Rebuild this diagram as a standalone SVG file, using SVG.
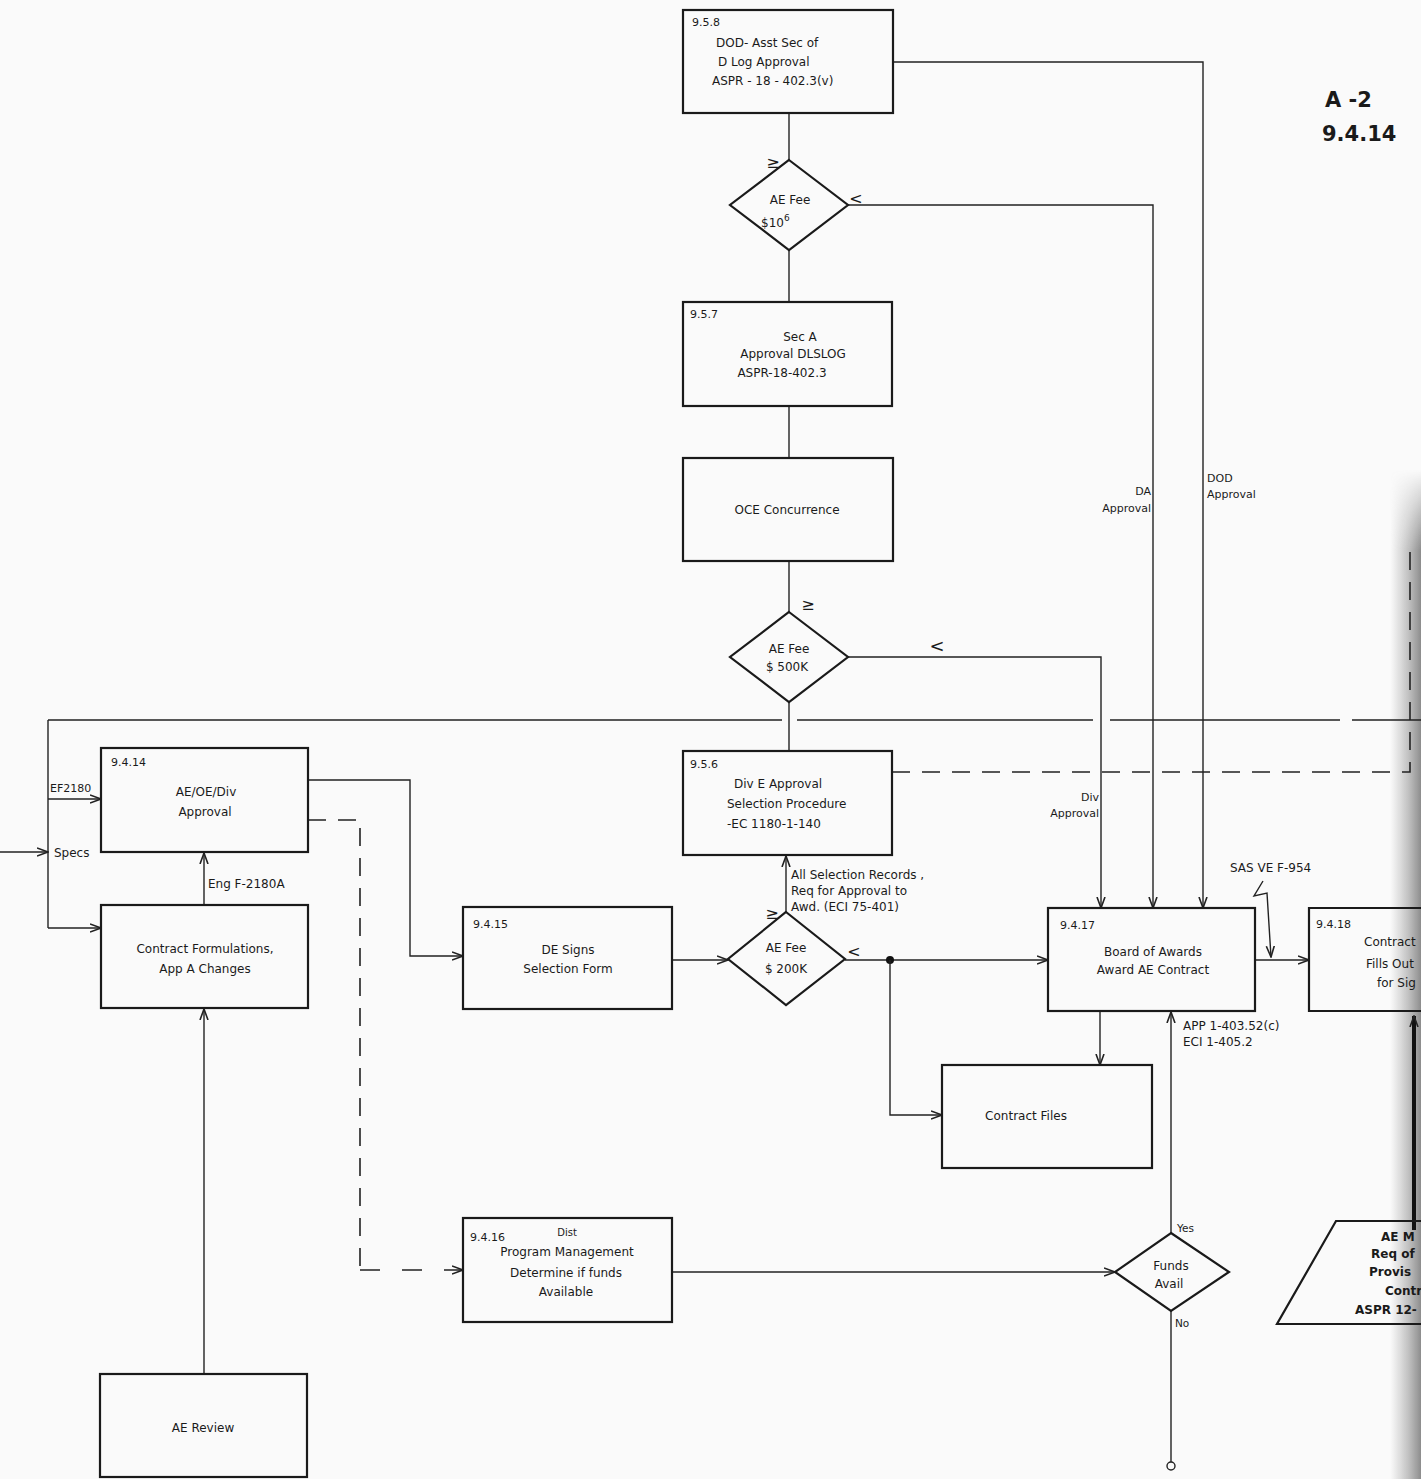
<svg xmlns="http://www.w3.org/2000/svg" width="1421" height="1479" viewBox="0 0 1421 1479">
<defs>
<marker id="ar" viewBox="0 0 12 10" refX="11" refY="5" markerWidth="12" markerHeight="10" markerUnits="userSpaceOnUse" orient="auto">
<path d="M0,1 L11,5 L0,9" fill="none" stroke="#222" stroke-width="1.6"/>
</marker>
<linearGradient id="shade" x1="0" y1="0" x2="1" y2="0">
<stop offset="0" stop-color="#777" stop-opacity="0"/>
<stop offset="1" stop-color="#444" stop-opacity="0.6"/>
</linearGradient>
<linearGradient id="fade" x1="0" y1="0" x2="0" y2="1">
<stop offset="0" stop-color="#fff" stop-opacity="0"/>
<stop offset="0.08" stop-color="#fff" stop-opacity="1"/>
</linearGradient>
<mask id="m">
<rect x="1390" y="470" width="31" height="1009" fill="url(#fade)"/>
</mask>
<style>
.box{fill:none;stroke:#1a1a1a;stroke-width:2.2}
.ln{fill:none;stroke:#222;stroke-width:1.4}
.ar{marker-end:url(#ar)}
.dash{fill:none;stroke:#222;stroke-width:1.6;stroke-dasharray:18 12}
text{font-family:"DejaVu Sans","Liberation Sans",sans-serif;font-size:12px;fill:#1a1a1a}
.c{text-anchor:middle}
.e{text-anchor:end}
.n{font-size:11px}
.big{font-size:21px;font-weight:bold}
.b{font-weight:bold}
.sym{font-size:16px;text-anchor:middle}
</style>
</defs>
<rect width="1421" height="1479" fill="#fafafa"/>
<rect x="1390" y="470" width="31" height="1009" fill="url(#shade)" mask="url(#m)"/>

<g id="connectors">
<path class="ln" d="M789,113 V160"/>
<path class="ln" d="M789,250 V302"/>
<path class="ln" d="M789,406 V458"/>
<path class="ln" d="M789,561 V612"/>
<path class="ln" d="M789,702 V751"/>
<path class="ln ar" d="M893,62 H1203 V908"/>
<path class="ln ar" d="M848,205 H1153 V908"/>
<path class="ln ar" d="M848,657 H1101 V908"/>
<path class="ln" d="M48,720 H782 M797,720 H1093 M1110,720 H1340 M1352,720 H1421"/>
<path class="ln" d="M48,720 V928"/>
<path class="ln ar" d="M48,928 H101"/>
<path class="ln ar" d="M48,799 H101"/>
<path class="ln ar" d="M0,852 H48"/>
<path class="dash" d="M892,772 H1410 V548"/>
<path class="ln ar" d="M786,912 V856"/>
<path class="ln ar" d="M672,960 H728"/>
<path class="ln ar" d="M845,960 H1048"/>
<circle cx="890" cy="960" r="4" fill="#111"/>
<path class="ln ar" d="M890,960 V1115 H942"/>
<path class="ln ar" d="M308,780 H410 V956 H463"/>
<path class="dash" d="M308,820 H360 V1270"/>
<path class="dash ar" d="M360,1270 H463" style="stroke-dasharray:20 22"/>
<path class="ln ar" d="M204,905 V853"/>
<path class="ln ar" d="M204,1374 V1009"/>
<path class="ln ar" d="M672,1272 H1115"/>
<path class="ln ar" d="M1171,1233 V1012"/>
<path class="ln" d="M1171,1311 V1462"/>
<circle cx="1171" cy="1466" r="4" fill="none" stroke="#222" stroke-width="1.4"/>
<path class="ln ar" d="M1100,1011 V1065"/>
<path class="ln ar" d="M1255,960 H1309"/>
<path class="ln ar" d="M1263,881 L1254,896 L1267,893 L1271,957"/>
<path d="M1414,1230 V1016" fill="none" stroke="#111" stroke-width="4" marker-end="url(#ar)"/>
</g>

<g id="n958">
<rect class="box" x="683" y="10" width="210" height="103"/>
<text x="692" y="26" class="n">9.5.8</text>
<text x="716" y="47">DOD- Asst Sec of</text>
<text x="718" y="66">D Log Approval</text>
<text x="712" y="85">ASPR - 18 - 402.3(v)</text>
</g>

<g id="d1">
<path class="box" d="M789,160 L848,205 L789,250 L730,205 Z"/>
<text x="790" y="204" class="c">AE Fee</text>
<text x="761" y="227">$10<tspan font-size="9" dy="-6">6</tspan></text>
<text x="773" y="168" class="sym">≥</text>
<text x="856" y="204" class="sym">&lt;</text>
</g>

<g id="n957">
<rect class="box" x="683" y="302" width="209" height="104"/>
<text x="690" y="318" class="n">9.5.7</text>
<text x="800" y="341" class="c">Sec A</text>
<text x="793" y="358" class="c">Approval DLSLOG</text>
<text x="782" y="377" class="c">ASPR-18-402.3</text>
</g>

<g id="oce">
<rect class="box" x="683" y="458" width="210" height="103"/>
<text x="787" y="514" class="c">OCE Concurrence</text>
</g>

<g id="d2">
<path class="box" d="M789,612 L848,657 L789,702 L730,657 Z"/>
<text x="789" y="653" class="c">AE Fee</text>
<text x="787" y="671" class="c">$ 500K</text>
<text x="808" y="610" class="sym">≥</text>
<text x="937" y="652" class="sym" style="font-size:18px">&lt;</text>
</g>

<g id="n956">
<rect class="box" x="683" y="751" width="209" height="104"/>
<text x="690" y="768" class="n">9.5.6</text>
<text x="734" y="788">Div E  Approval</text>
<text x="727" y="808">Selection Procedure</text>
<text x="727" y="828">-EC 1180-1-140</text>
</g>

<text x="791" y="879">All Selection Records ,</text>
<text x="791" y="895">Req for Approval to</text>
<text x="791" y="911">Awd. (ECI 75-401)</text>

<g id="d3">
<path class="box" d="M786,912 L845,959 L786,1005 L728,959 Z"/>
<text x="786" y="952" class="c">AE Fee</text>
<text x="786" y="973" class="c">$ 200K</text>
<text x="772" y="919" class="sym">≥</text>
<text x="854" y="957" class="sym">&lt;</text>
</g>

<g id="n9414">
<rect class="box" x="101" y="748" width="207" height="104"/>
<text x="111" y="766" class="n">9.4.14</text>
<text x="206" y="796" class="c">AE/OE/Div</text>
<text x="205" y="816" class="c">Approval</text>
</g>
<text x="50" y="792" style="font-size:11px">EF2180</text>
<text x="54" y="857">Specs</text>
<text x="208" y="888">Eng F-2180A</text>

<g id="cf">
<rect class="box" x="101" y="905" width="207" height="103"/>
<text x="205" y="953" class="c">Contract Formulations,</text>
<text x="205" y="973" class="c">App A Changes</text>
</g>

<g id="aer">
<rect class="box" x="100" y="1374" width="207" height="103"/>
<text x="203" y="1432" class="c">AE Review</text>
</g>

<g id="n9415">
<rect class="box" x="463" y="907" width="209" height="102"/>
<text x="473" y="928" class="n">9.4.15</text>
<text x="568" y="954" class="c">DE Signs</text>
<text x="568" y="973" class="c">Selection Form</text>
</g>

<g id="n9416">
<rect class="box" x="463" y="1218" width="209" height="104"/>
<text x="470" y="1241" class="n">9.4.16</text>
<text x="567" y="1236" class="c" style="font-size:10px">Dist</text>
<text x="567" y="1256" class="c">Program Management</text>
<text x="566" y="1277" class="c">Determine if funds</text>
<text x="566" y="1296" class="c">Available</text>
</g>

<g id="n9417">
<rect class="box" x="1048" y="908" width="207" height="103"/>
<text x="1060" y="929" class="n">9.4.17</text>
<text x="1153" y="956" class="c">Board of Awards</text>
<text x="1153" y="974" class="c">Award AE Contract</text>
</g>
<text x="1183" y="1030">APP 1-403.52(c)</text>
<text x="1183" y="1046">ECI  1-405.2</text>
<text x="1230" y="872">SAS VE F-954</text>

<g id="cfiles">
<rect class="box" x="942" y="1065" width="210" height="103"/>
<text x="1026" y="1120" class="c">Contract Files</text>
</g>

<g id="funds">
<path class="box" d="M1171,1233 L1229,1272 L1171,1311 L1115,1272 Z"/>
<text x="1171" y="1270" class="c">Funds</text>
<text x="1169" y="1288" class="c">Avail</text>
<text x="1177" y="1232" style="font-size:10.5px">Yes</text>
<text x="1175" y="1327" style="font-size:10.5px">No</text>
</g>

<text x="1151" y="495" class="e" style="font-size:11px">DA</text>
<text x="1151" y="512" class="e" style="font-size:11px">Approval</text>
<text x="1207" y="482" style="font-size:11px">DOD</text>
<text x="1207" y="498" style="font-size:11px">Approval</text>
<text x="1099" y="801" class="e" style="font-size:11px">Div</text>
<text x="1099" y="817" class="e" style="font-size:11px">Approval</text>

<g id="n9418">
<path class="box" d="M1421,908 H1309 V1011 H1421"/>
<text x="1316" y="928" class="n">9.4.18</text>
<text x="1364" y="946">Contract</text>
<text x="1366" y="968">Fills Out</text>
<text x="1377" y="987">for Sig</text>
</g>

<g id="trap">
<path class="box" d="M1421,1221 H1336 L1277,1324 H1421"/>
<text x="1381" y="1241" class="b">AE M</text>
<text x="1371" y="1258" class="b">Req of</text>
<text x="1369" y="1276" class="b">Provis</text>
<text x="1385" y="1295" class="b">Contr</text>
<text x="1355" y="1314" class="b">ASPR 12-</text>
</g>

<text x="1325" y="107" class="big">A -2</text>
<text x="1322" y="141" class="big">9.4.14</text>
</svg>
